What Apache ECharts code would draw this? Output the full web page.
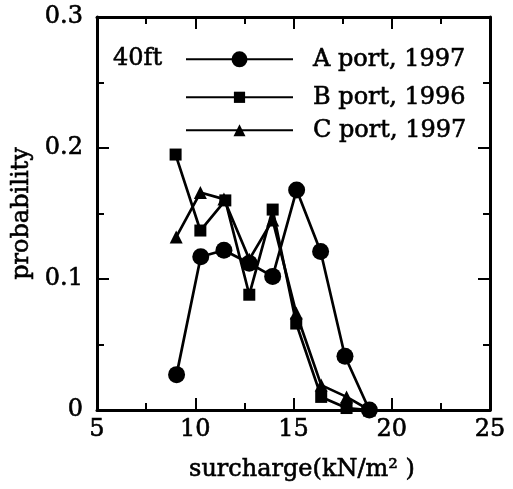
<!DOCTYPE html>
<html>
<head>
<meta charset="utf-8">
<script src="https://cdn.jsdelivr.net/npm/echarts/dist/echarts.min.js"></script>
<style>
html,body{margin:0;padding:0;background:#fff;}
#chart{width:513px;height:489px;}
</style>
</head>
<body>
<div id="chart"></div>
<script>
// Data
var seriesNames = ['A port, 1997', 'B port, 1996', 'C port, 1997'];
var xA = [9.05, 10.28, 11.46, 12.75, 13.94, 15.16, 16.38, 17.62, 18.86];
var yA = [0.027, 0.117, 0.122, 0.112, 0.102, 0.168, 0.121, 0.041, 0.0];
var xB = [9.0, 10.26, 11.53, 12.75, 13.94, 15.14, 16.41, 17.7, 18.86];
var yB = [0.195, 0.137, 0.160, 0.088, 0.153, 0.066, 0.010, 0.0015, 0.0];
var xC = [9.03, 10.26, 11.46, 12.75, 13.94, 15.14, 16.41, 17.7, 18.86];
var yC = [0.132, 0.166, 0.161, 0.115, 0.145, 0.074, 0.019, 0.010, 0.0];
var xTicks = [5, 10, 15, 20, 25];
var yTicks = [0, 0.1, 0.2, 0.3];
var annotation = '40ft';
var xName = 'surcharge(kN/m\u00B2 )';
var yName = 'probability';

function pairs(xs, ys) { return xs.map(function (x, i) { return [x, ys[i]]; }); }

var FONT = 'DejaVu Serif';
var TXT = {fontFamily: FONT, fontSize: 24, color: '#000', textBorderColor: '#000', textBorderWidth: 0.6};
function txt(extra) { return Object.assign({}, TXT, extra || {}); }

var chart = echarts.init(document.getElementById('chart'), null, {renderer: 'canvas'});

var axisLine = {show: true, onZero: false, lineStyle: {color: '#000', width: 3}};
var tick = {show: true, inside: true, length: 12, lineStyle: {color: '#000', width: 2}};
var minor = {show: true, splitNumber: 2, length: 7, lineStyle: {color: '#000', width: 2}};

var lineStyle = {color: '#000', width: 2.7};

function legendFor(name, top, h) {
  return {
    data: [name], left: 185, top: top, orient: 'horizontal', padding: 0,
    itemWidth: 107, itemHeight: h, selectedMode: false,
    textStyle: txt({padding: [0, 0, 0, 15]})
  };
}

chart.setOption({
  animation: false,
  backgroundColor: '#fff',
  title: {
    text: annotation, left: 113, top: 47, padding: 0,
    textStyle: txt({fontWeight: 'normal'})
  },
  legend: [
    legendFor(seriesNames[0], 47, 20),
    legendFor(seriesNames[1], 85, 14),
    legendFor(seriesNames[2], 118, 15)
  ],
  grid: {left: 97, right: 23, top: 17, bottom: 79, containLabel: false},
  xAxis: [{
    type: 'value', min: xTicks[0], max: xTicks[xTicks.length - 1], interval: 5,
    position: 'bottom',
    axisLine: axisLine, axisTick: tick, minorTick: minor, splitLine: {show: false},
    axisLabel: txt({margin: 8}),
    name: xName, nameLocation: 'middle', nameGap: 48,
    nameTextStyle: txt({padding: [0, 0, 0, 17]})
  }, {
    type: 'value', min: xTicks[0], max: xTicks[xTicks.length - 1], interval: 5,
    position: 'top',
    axisLine: axisLine, axisTick: tick, minorTick: minor, splitLine: {show: false},
    axisLabel: {show: false}
  }],
  yAxis: [{
    type: 'value', min: yTicks[0], max: yTicks[yTicks.length - 1], interval: 0.1,
    position: 'left',
    axisLine: axisLine, axisTick: tick, minorTick: minor, splitLine: {show: false},
    axisLabel: txt({
      margin: 14,
      formatter: function (v) { return v === 0 ? '0' : v.toFixed(1); }
    }),
    name: yName, nameLocation: 'middle', nameGap: 54,
    nameTextStyle: txt()
  }, {
    type: 'value', min: yTicks[0], max: yTicks[yTicks.length - 1], interval: 0.1,
    position: 'right',
    axisLine: axisLine, axisTick: tick, minorTick: minor, splitLine: {show: false},
    axisLabel: {show: false}
  }],
  series: [{
    name: seriesNames[2], type: 'line', xAxisIndex: 0, yAxisIndex: 0,
    data: pairs(xC, yC), symbol: 'triangle', symbolSize: 13,
    itemStyle: {color: '#000'}, lineStyle: lineStyle, z: 2
  }, {
    name: seriesNames[1], type: 'line', xAxisIndex: 0, yAxisIndex: 0,
    data: pairs(xB, yB), symbol: 'rect', symbolSize: 12,
    itemStyle: {color: '#000'}, lineStyle: lineStyle, z: 3
  }, {
    name: seriesNames[0], type: 'line', xAxisIndex: 0, yAxisIndex: 0,
    data: pairs(xA, yA), symbol: 'circle', symbolSize: 17,
    itemStyle: {color: '#000'}, lineStyle: lineStyle, z: 4
  }]
});
</script>
</body>
</html>
